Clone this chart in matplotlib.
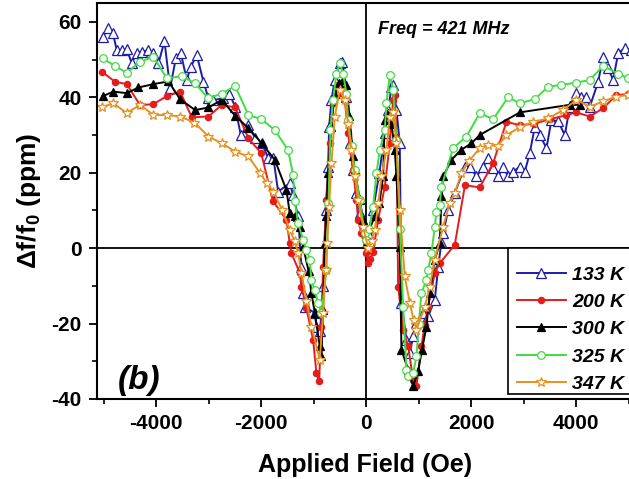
import numpy as np
import matplotlib.pyplot as plt
from matplotlib.patches import Rectangle

plt.rcParams['font.family'] = ['Liberation Sans', 'DejaVu Sans']
plt.rcParams['mathtext.fontset'] = 'custom'
plt.rcParams['mathtext.rm'] = 'Liberation Sans:bold'
plt.rcParams['mathtext.bf'] = 'Liberation Sans:bold'
plt.rcParams['mathtext.default'] = 'bf'
plt.rcParams['axes.unicode_minus'] = False

# 133 K
x133 = [-5020, -4912, -4829, -4753, -4658, -4563, -4467, -4372, -4277, -4150, -4055, -3959,
        -3845, -3737, -3629, -3534, -3420, -3343, -3229, -3102, -3007, -2912, -2721, -2607,
        -2499, -2391, -2245, -2118, -1991, -1864, -1769, -1680, -1458, -1394, -1299, -1235,
        -1204, -1172, -981, -950, -880, -820, -772, -727, -708, -664, -600, -505, -454, -378,
        -315, -251, -188, -124, -29, 35, 130, 250, 352, 416, 480, 511, 575, 638, 670, 765,
        829, 892, 956, 1083, 1178, 1305, 1370, 1432, 1464, 1560, 1686, 1877, 1972, 2099,
        2226, 2321, 2417, 2512, 2607, 2702, 2797, 2925, 3020, 3115, 3210, 3305, 3433, 3528,
        3655, 3782, 3877, 3991, 4099, 4194, 4258, 4417, 4512, 4607, 4703, 4798, 4925, 5050]
y133 = [56.1, 58.3, 57.1, 52.5, 52.5, 52.7, 49.0, 51.8, 52.1, 52.5, 51.8, 49.0,
        54.9, 42.4, 50.3, 51.8, 44.6, 48.1, 51.2, 44.1, 39.7, 39.3, 39.7, 41.0,
        37.5, 30.0, 32.7, 29.1, 27.8, 23.8, 23.8, 15.0, 17.2, 14.1, 8.4, -4.9,
        -11.9, -15.5, -17.2, -20.8, -22.0, -10.0, 10.1, 21.6, 32.2, 39.3, 44.6, 49.0, 49.4, 40.2,
        27.8, 20.7, 14.6, 9.3, 4.8, 4.0, 10.1, 20.0, 30.5, 36.6, 42.8, 43.3, 36.6, 27.8, -14.6, -24.3,
        -27.8, -23.4, -19.9, -17.2, -18.1, -13.7, -5.0, 1.7, 4.0, 10.0, 14.6, 21.6, 21.6, 19.0,
        21.6, 23.8, 21.2, 19.0, 21.6, 19.0, 20.3, 21.6, 20.3, 25.2, 32.2, 30.0, 26.5, 34.0,
        33.6, 30.0, 37.5, 41.1, 40.2, 40.2, 37.5, 44.1, 50.8, 47.7, 44.6, 51.7, 53.0, 52.5]

# 200 K
x200 = [-5039, -4785, -4563, -4309, -4055, -3800, -3547, -3324, -3007, -2753, -2499, -2245,
        -2003, -1775, -1521, -1458, -1426, -1267, -1235, -1140, -1013, -950, -899, -854, -823,
        -759, -696, -632, -537, -473, -410, -346, -251, -188, -156, -92, 3, 35, 70, 130, 226,
        352, 448, 511, 543, 575, 607, 702, 797, 892, 956, 1050, 1115, 1178, 1305, 1400, 1686,
        1880, 2160, 2416, 2670, 2924, 3200, 3500, 3800, 4000, 4258, 4512, 4766, 4988]
y200 = [46.8, 44.1, 43.5, 37.9, 38.2, 40.3, 41.5, 34.7, 34.9, 38.0, 37.3, 29.1,
        25.2, 12.4, 7.5, 1.3, -1.3, -6.6, -10.2, -16.0, -24.3, -33.1, -35.3, -20.8, -4.9,
        12.8, 27.8, 38.4, 43.3, 41.1, 39.3, 30.5, 20.7, 12.8, 7.5, 4.0, -1.3, -4.0, -3.0, -0.9, 7.5,
        16.3, 27.8, 39.3, 40.6, 29.6, -10.2, -21.6, -26.0, -34.9, -36.6, -26.0, -20.3, -15.5, -6.6, -4.0, 0.9,
        16.7, 16.1, 22.5, 33.5, 32.6, 33.0, 34.2, 35.2, 36.0, 34.9, 37.1, 40.6, 40.8]

# 300 K
x300 = [-5020, -4817, -4563, -4340, -4055, -3769, -3547, -3261, -3007, -2753, -2499, -2245,
        -1991, -1743, -1521, -1458, -1362, -1267, -1204, -1100, -1045, -981, -886, -854, -823,
        -791, -759, -727, -670, -600, -518, -442, -378, -320, -251, -219, -124, -61, 0, 60,
        162, 250, 321, 352, 416, 480, 543, 575, 638, 670, 797, 892, 988, 1060, 1146, 1210,
        1305, 1400, 1432, 1464, 1623, 1800, 2003, 2162, 2925, 3877, 4067]
y300 = [40.3, 41.5, 41.1, 42.6, 43.5, 44.2, 39.5, 36.6, 37.3, 39.3, 35.1, 31.8,
        27.8, 23.4, 15.4, 9.3, 8.4, 5.7, 0.4, -6.0, -11.9, -17.2, -26.0, -28.7, -16.3,
        1.3, 8.4, 19.9, 32.0, 41.0, 43.7, 44.6, 43.3, 35.0, 24.3, 20.7, 12.8, 7.5, 1.0, 5.0,
        8.4, 12.0, 19.0, 34.0, 35.8, 33.0, 26.0, 19.0, 0.4, -27.0, -32.2, -36.6, -32.6, -27.0, -20.8, -11.9,
        -3.1, 1.3, 13.7, 19.0, 23.4, 26.0, 27.8, 30.0, 36.0, 38.0, 38.0]

# 325 K
x325 = [-5020, -4785, -4563, -4309, -4055, -3800, -3515, -3261, -3007, -2753, -2499, -2245,
        -1997, -1743, -1489, -1394, -1362, -1299, -1204, -1140, -1077, -1045, -981, -918, -854,
        -759, -720, -683, -632, -569, -505, -442, -378, -346, -280, -219, -124, -29, 3, 60,
        130, 194, 257, 352, 384, 448, 511, 575, 640, 702, 765, 797, 892, 956, 1000, 1051,
        1146, 1178, 1242, 1305, 1337, 1400, 1432, 1654, 1908, 2162, 2417, 2702, 2925, 3210,
        3464, 3718, 4004, 4258, 4512, 4798, 4988]
y325 = [50.3, 48.3, 46.5, 49.4, 50.8, 45.0, 45.6, 43.7, 39.7, 41.0, 43.0, 35.3,
        34.2, 31.3, 26.0, 19.4, 12.4, 6.6, 2.2, -0.4, -3.1, -8.4, -11.1, -14.6, -17.2,
        -5.8, 12.0, 31.3, 39.3, 46.3, 49.0, 46.3, 41.0, 34.0, 27.0, 20.7, 12.8, 4.0, 2.2, 5.0,
        11.0, 19.9, 26.0, 31.3, 38.4, 45.9, 42.0, 28.7, 5.0, -15.5, -32.2, -34.0, -33.1, -28.7, -20.0, -11.9,
        -8.4, -5.8, -1.3, 5.7, 9.7, 11.5, 16.3, 26.5, 29.6, 35.8, 34.2, 40.0, 38.4, 39.5,
        42.8, 43.3, 43.9, 44.6, 48.3, 46.3, 45.0]

# 347 K
x347 = [-5039, -4817, -4563, -4309, -4055, -3800, -3547, -3273, -3007, -2753, -2499, -2245,
        -2023, -1896, -1769, -1600, -1458, -1362, -1299, -1235, -1140, -1045, -886, -823, -772,
        -746, -708, -664, -600, -505, -410, -346, -283, -219, -156, -61, 35, 100, 162, 230,
        289, 384, 448, 511, 575, 640, 733, 829, 900, 956, 1115, 1210, 1305, 1464, 1591, 1686,
        1813, 1950, 2162, 2321, 2500, 2670, 2925, 3178, 3464, 3750, 4004, 4258, 4512, 4766, 4988]
y347 = [37.4, 38.4, 35.8, 38.0, 35.3, 35.3, 34.9, 33.3, 29.6, 27.8, 25.6, 24.3,
        19.9, 17.2, 15.0, 10.0, 4.8, 1.8, -1.3, -6.6, -14.0, -20.8, -29.6, -17.2, -5.8,
        1.3, 11.0, 22.5, 34.9, 42.0, 39.3, 33.0, 26.0, 19.0, 12.8, 5.7, 0.0, 2.0, 4.8, 12.0,
        19.0, 26.0, 34.9, 36.0, 27.8, 10.0, -7.5, -14.6, -19.0, -21.6, -15.5, -10.2, -3.1, 5.7, 11.9, 14.6,
        19.9, 23.0, 26.5, 27.4, 27.0, 30.0, 32.0, 33.5, 34.4, 36.6, 39.3, 37.5, 38.9, 40.2, 40.6]

series = [
    (x133, y133, '133 K', '#1c1ca8', '^', 'white', 6.5),
    (x200, y200, '200 K', '#e51c1c', 'o', '#e51c1c', 4.5),
    (x300, y300, '300 K', 'black', '^', 'black', 5.5),
    (x325, y325, '325 K', '#40dc40', 'o', 'white', 5.5),
    (x347, y347, '347 K', '#e8901e', '*', 'white', 7.5),
]

fig = plt.figure(figsize=(6.29, 4.79), dpi=100)
ax = fig.add_axes([97 / 629, 80 / 479, 537 / 629, 396 / 479])

ax.axhline(0, color='black', lw=1.3, zorder=1)
ax.axvline(0, color='black', lw=1.3, zorder=1)

for xs, ys, lab, col, mk, fc, ms in series:
    ax.plot(xs, ys, color=col, lw=1.4, marker=mk, ms=ms, mfc=fc, mec=col,
            mew=0.9, label=lab, zorder=2)

ax.set_xlim(-5130, 5100)
ax.set_ylim(-40, 65)
ax.set_xticks([-4000, -2000, 0, 2000, 4000])
ax.set_xticks(np.arange(-5000, 5001, 1000), minor=True)
ax.set_yticks([-40, -20, 0, 20, 40, 60])
ax.set_yticks(np.arange(-40, 61, 10), minor=True)
ax.tick_params(which='major', direction='out', length=6, width=1.3, labelsize=15, pad=5)
ax.tick_params(which='minor', direction='out', length=3.5, width=1.2)
for lbl in ax.get_xticklabels() + ax.get_yticklabels():
    lbl.set_fontweight('bold')
for sp in ax.spines.values():
    sp.set_linewidth(1.5)

ax.set_xlabel('Applied Field (Oe)', fontsize=18, fontweight='bold', labelpad=14)
ax.set_ylabel('Δf/f$_0$ (ppm)', fontsize=19, fontweight='bold', labelpad=6)

ax.text(378 / 629, 1 - 30 / 479, 'Freq = 421 MHz', transform=fig.transFigure,
        fontsize=13, fontweight='bold', fontstyle='italic', va='center', ha='left')
ax.text(118 / 629, 1 - 380 / 479, '(b)', transform=fig.transFigure,
        fontsize=24, fontweight='bold', fontstyle='italic', va='center', ha='left')

# legend frame (box runs off the right edge of the picture)
box = Rectangle((508 / 629, 1 - 394 / 479), 140 / 629, 146 / 479, transform=fig.transFigure,
                facecolor='white', edgecolor='black', lw=1.2, clip_on=False, zorder=4)
ax.add_patch(box)
leg = ax.legend(loc='upper left', bbox_to_anchor=(517 / 629, 1 - 266 / 479),
                bbox_transform=fig.transFigure, borderaxespad=0, frameon=False,
                handlelength=2.5, handletextpad=0.35, labelspacing=0.5, borderpad=0,
                prop={'size': 14, 'weight': 'bold', 'style': 'italic'})
leg.set_zorder(5)

fig.savefig('out.png', dpi=100)
